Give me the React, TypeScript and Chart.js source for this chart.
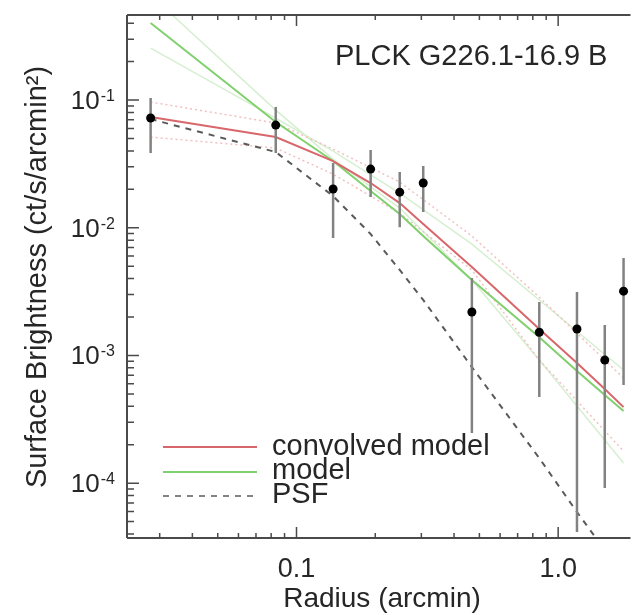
import React, { useEffect, useRef } from 'react';
import { Chart, registerables } from 'chart.js';

Chart.register(...registerables);

// ---- data ----
const dataRadius = [0.0277, 0.0833, 0.138, 0.192, 0.248, 0.305, 0.468, 0.847, 1.18, 1.507, 1.778];
const dataSB = [0.0723, 0.0637, 0.0201, 0.0288, 0.019, 0.0224, 0.00219, 0.00152, 0.00161, 0.00092, 0.00319];
const errHigh = [0.1037, 0.0882, 0.0321, 0.0406, 0.0273, 0.0304, 0.00404, 0.00262, 0.00314, 0.00173, 0.00579];
const errLow = [0.0385, 0.0385, 0.0083, 0.0174, 0.0101, 0.0133, 0.000247, 0.000472, 0.0000414, 0.0000916, 0.000586];

// models evaluated at the data radii
const curveRadius = [0.0277, 0.0833, 0.138, 0.192, 0.248, 0.305, 0.468, 0.847, 1.18, 1.507, 1.778];
const convolvedModel = [0.0736, 0.0513, 0.0333, 0.0224, 0.0156, 0.01069, 0.00492, 0.00161, 0.000872, 0.000546, 0.000394];
const betaModel = [0.401, 0.0673, 0.0333, 0.0194, 0.0128, 0.00861, 0.0039, 0.00139, 0.000755, 0.00049, 0.000367];
const psfProfile = [0.071, 0.0392, 0.0177, 0.00893, 0.00467, 0.00272, 0.000811, 0.000157, 0.0000594, 0.0000299, 0.0000181];

const boundRadius = [0.0277, 0.0833, 0.138, 0.248, 0.468, 0.847, 1.778];
const convolvedUpper = [0.0965, 0.0661, 0.0413, 0.0228, 0.00861, 0.00286, 0.000665];
const convolvedLower = [0.0513, 0.0421, 0.0263, 0.013, 0.00467, 0.00092, 0.000178];
const modelBoundFlat = [0.255, 0.0723, 0.0399, 0.0187, 0.00745, 0.00272, 0.000769];
const modelBoundSteep = [0.664, 0.0835, 0.0345, 0.01426, 0.0039, 0.00092, 0.0001436];

const xMajorTicks = [0.1, 1];
const xTickLabels = ['0.1', '1.0'];
const yMajorTicks = [1e-1, 1e-2, 1e-3, 1e-4];
const yTickExponents = ['-1', '-2', '-3', '-4'];

const plotTitle = 'PLCK G226.1-16.9 B';
const xTitle = 'Radius (arcmin)';
const yTitle = 'Surface Brightness (ct/s/arcmin²)';
const legendLabels = ['convolved model', 'model', 'PSF'];

const X_MIN = 0.0225;
const X_MAX = 1.89;
const Y_MIN = 3.72e-5;
const Y_MAX = 0.4636;

const FONT = '"Liberation Sans", Arial, Helvetica, sans-serif';
const RED = '#d8676c';
const GREEN = '#80d06e';
const PALE_RED = '#f2c0c0';
const PALE_GREEN = '#d6efd0';
const PSF_COLOR = '#5a5a5a';
const AXIS = '#4a4a4a';
const TEXT = '#262626';

function pairs(xs: number[], ys: number[]) {
  return xs.map((x, i) => ({ x, y: ys[i] }));
}

export default function App() {
  const ref = useRef<HTMLCanvasElement>(null);

  useEffect(() => {
    const canvas = ref.current;
    if (!canvas) return;

    const overlay = {
      id: 'overlay',
      beforeDatasetDraw(chart: any, args: any) {
        if (args.index !== 0) return;
        const { ctx, chartArea: a, scales } = chart;
        const xs = scales.x;
        const ys = scales.y;
        ctx.save();
        ctx.beginPath();
        ctx.rect(a.left, a.top, a.right - a.left, a.bottom - a.top);
        ctx.clip();
        ctx.strokeStyle = '#828282';
        ctx.lineWidth = 2.5;
        dataRadius.forEach((r, i) => {
          const px = xs.getPixelForValue(r);
          ctx.beginPath();
          ctx.moveTo(px, ys.getPixelForValue(errHigh[i]));
          ctx.lineTo(px, ys.getPixelForValue(errLow[i]));
          ctx.stroke();
        });
        ctx.restore();
      },
      afterDraw(chart: any) {
        const { ctx, chartArea: a, scales } = chart;
        const xs = scales.x;
        const ys = scales.y;
        ctx.save();
        // axes lines
        ctx.strokeStyle = AXIS;
        ctx.lineWidth = 2;
        ctx.beginPath();
        ctx.moveTo(a.left, a.top);
        ctx.lineTo(a.right, a.top);
        ctx.moveTo(a.left, a.top);
        ctx.lineTo(a.left, a.bottom);
        ctx.moveTo(a.left, a.bottom);
        ctx.lineTo(a.right, a.bottom);
        ctx.stroke();

        // ticks (inward, IDL style)
        ctx.lineWidth = 1.5;
        ctx.beginPath();
        for (let k = -6; k <= 1; k++) {
          for (let m = 1; m <= 9; m++) {
            const v = m * Math.pow(10, k);
            if (v >= X_MIN && v <= X_MAX) {
              const px = xs.getPixelForValue(v);
              const len = m === 1 ? 11 : 5;
              ctx.moveTo(px, a.top);
              ctx.lineTo(px, a.top + len);
              ctx.moveTo(px, a.bottom);
              ctx.lineTo(px, a.bottom - len);
            }
            if (v >= Y_MIN && v <= Y_MAX) {
              const py = ys.getPixelForValue(v);
              const len = m === 1 ? 12 : 7;
              ctx.moveTo(a.left, py);
              ctx.lineTo(a.left + len, py);
            }
          }
        }
        ctx.stroke();

        ctx.fillStyle = TEXT;
        // x tick labels
        ctx.font = `27px ${FONT}`;
        ctx.textAlign = 'center';
        ctx.textBaseline = 'alphabetic';
        xMajorTicks.forEach((v, i) => {
          ctx.fillText(xTickLabels[i], xs.getPixelForValue(v), 577);
        });
        // y tick labels with superscript exponents
        yMajorTicks.forEach((v, i) => {
          const py = ys.getPixelForValue(v);
          ctx.textAlign = 'right';
          ctx.font = `16px ${FONT}`;
          const supW = ctx.measureText(yTickExponents[i]).width;
          ctx.fillText(yTickExponents[i], 115, py + 1);
          ctx.font = `26px ${FONT}`;
          ctx.fillText('10', 115 - supW - 1, py + 9);
        });

        // axis titles
        ctx.textAlign = 'center';
        ctx.font = `28px ${FONT}`;
        ctx.fillText(xTitle, 382, 607);
        ctx.save();
        ctx.translate(46, 277);
        ctx.rotate(-Math.PI / 2);
        ctx.font = `29px ${FONT}`;
        ctx.fillText(yTitle, 0, 0);
        ctx.restore();

        // plot title
        ctx.textAlign = 'left';
        ctx.font = `29px ${FONT}`;
        ctx.fillText(plotTitle, 335, 65);

        // legend
        const legendY = [447, 472, 496];
        const legendBase = [455, 479, 503];
        const legendColor = [RED, GREEN, PSF_COLOR];
        legendY.forEach((ly, i) => {
          ctx.strokeStyle = legendColor[i];
          ctx.lineWidth = i === 2 ? 1.5 : 2;
          ctx.setLineDash(i === 2 ? [6, 6] : []);
          ctx.beginPath();
          ctx.moveTo(163, ly);
          ctx.lineTo(257, ly);
          ctx.stroke();
        });
        ctx.setLineDash([]);
        ctx.font = `29px ${FONT}`;
        ctx.fillStyle = TEXT;
        legendLabels.forEach((t, i) => ctx.fillText(t, 272, legendBase[i]));
        ctx.restore();
      },
    };

    const chart = new Chart(canvas, {
      type: 'scatter',
      data: {
        datasets: [
          {
            label: 'data',
            data: pairs(dataRadius, dataSB),
            pointRadius: 4.5,
            pointBackgroundColor: '#000',
            pointBorderWidth: 0,
            showLine: false,
          },
          {
            label: 'PSF',
            data: pairs(curveRadius, psfProfile),
            showLine: true,
            pointRadius: 0,
            borderColor: PSF_COLOR,
            borderWidth: 2,
            borderDash: [6, 6],
          },
          {
            label: 'convolved model',
            data: pairs(curveRadius, convolvedModel),
            showLine: true,
            pointRadius: 0,
            borderColor: RED,
            borderWidth: 2,
          },
          {
            label: 'model',
            data: pairs(curveRadius, betaModel),
            showLine: true,
            pointRadius: 0,
            borderColor: GREEN,
            borderWidth: 2,
          },
          {
            label: 'convolved upper',
            data: pairs(boundRadius, convolvedUpper),
            showLine: true,
            pointRadius: 0,
            borderColor: PALE_RED,
            borderWidth: 1.5,
            borderDash: [2, 3],
          },
          {
            label: 'convolved lower',
            data: pairs(boundRadius, convolvedLower),
            showLine: true,
            pointRadius: 0,
            borderColor: PALE_RED,
            borderWidth: 1.5,
            borderDash: [2, 3],
          },
          {
            label: 'model bound a',
            data: pairs(boundRadius, modelBoundFlat),
            showLine: true,
            pointRadius: 0,
            borderColor: PALE_GREEN,
            borderWidth: 1.5,
          },
          {
            label: 'model bound b',
            data: pairs(boundRadius, modelBoundSteep),
            showLine: true,
            pointRadius: 0,
            borderColor: PALE_GREEN,
            borderWidth: 1.5,
          },
        ],
      },
      options: {
        animation: false,
        responsive: false,
        devicePixelRatio: 1,
        layout: { padding: { left: 0, top: 15, right: 0, bottom: 0 } },
        plugins: {
          legend: { display: false },
          tooltip: { enabled: false },
          title: { display: false },
        },
        scales: {
          x: {
            type: 'logarithmic',
            min: X_MIN,
            max: X_MAX,
            grid: { display: false },
            border: { display: false },
            ticks: { display: false },
            afterFit: (s: any) => {
              s.height = 77;
            },
          },
          y: {
            type: 'logarithmic',
            min: Y_MIN,
            max: Y_MAX,
            grid: { display: false },
            border: { display: false },
            ticks: { display: false },
            afterFit: (s: any) => {
              s.width = 127;
            },
          },
        },
      },
      plugins: [overlay],
    } as any);

    return () => chart.destroy();
  }, []);

  return (
    <div style={{ position: 'absolute', left: 0, top: 0, width: 635, height: 615, background: '#fff', overflow: 'hidden' }}>
      <canvas ref={ref} width={635} height={615} style={{ width: 635, height: 615, display: 'block' }} />
    </div>
  );
}
